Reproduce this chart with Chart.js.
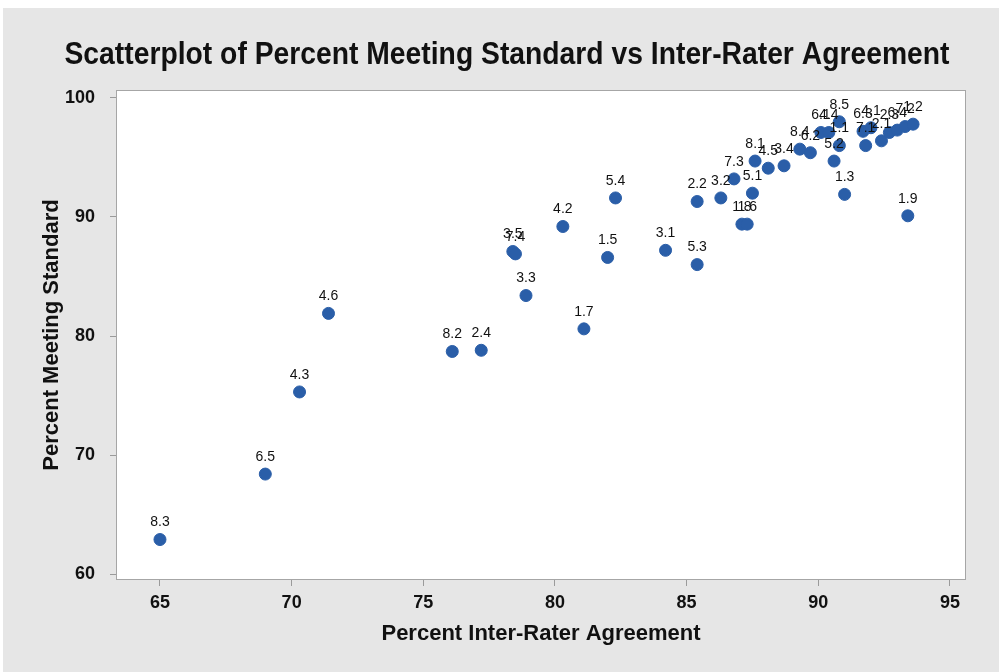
<!DOCTYPE html>
<html>
<head>
<meta charset="utf-8">
<title>Scatterplot of Percent Meeting Standard vs Inter-Rater Agreement</title>
<script src="https://cdn.jsdelivr.net/npm/chart.js@4.4.1/dist/chart.umd.min.js"></script>
<style>
  html, body { margin: 0; padding: 0; background: #ffffff; }
  #wrap { width: 1002px; height: 672px; position: relative; }
</style>
</head>
<body>
<div id="wrap"><canvas id="chart" width="1002" height="672"></canvas></div>
<script>
// standard codes shown next to each point
const pointLabels = [
  "8.3", "6.5", "4.3", "4.6", "8.2", "2.4", "3.5", "7.4", "3.3", "4.2",
  "1.7", "1.5", "5.4", "3.1", "5.3", "2.2", "3.2", "7.3", "5.1", "1.8",
  "1.6", "8.1", "4.5", "3.4", "8.4", "6.2", "6.1", "4.4", "8.5", "1.1",
  "5.2", "1.3", "1.9", "6.3", "7.1", "4.1", "2.1", "2.3", "6.4", "7.2", "1.2"
];
// Percent Inter-Rater Agreement
const agreement = [
  65.0, 69.0, 70.3, 71.4, 76.1, 77.2, 78.4, 78.5, 78.9, 80.3,
  81.1, 82.0, 82.3, 84.2, 85.4, 85.4, 86.3, 86.8, 87.5, 87.1,
  87.3, 87.6, 88.1, 88.7, 89.3, 89.7, 90.1, 90.4, 90.8, 90.8,
  90.6, 91.0, 93.4, 91.7, 91.8, 92.0, 92.4, 92.7, 93.0, 93.3, 93.6
];
// Percent Meeting Standard
const meeting = [
  62.9, 68.4, 75.3, 81.9, 78.7, 78.8, 87.1, 86.9, 83.4, 89.2,
  80.6, 86.6, 91.6, 87.2, 86.0, 91.3, 91.6, 93.2, 92.0, 89.4,
  89.4, 94.7, 94.1, 94.3, 95.7, 95.4, 97.1, 97.1, 98.0, 96.0,
  94.7, 91.9, 90.1, 97.2, 96.0, 97.5, 96.4, 97.1, 97.3, 97.6, 97.8
];
const xTicks = [65, 70, 75, 80, 85, 90, 95];
const yTicks = [60, 70, 80, 90, 100];

const chartTitle = "Scatterplot of Percent Meeting Standard vs Inter-Rater Agreement";
const sans = "'Liberation Sans', Arial, sans-serif";
const dotBlue = "#2a5ea8";

const points = agreement.map((x, i) => ({ x: x, y: meeting[i] }));

// grey panel behind everything, white plot area with a thin frame
const panelPlugin = {
  id: "panel",
  beforeDraw(chart) {
    const { ctx, chartArea } = chart;
    ctx.save();
    ctx.fillStyle = "#ffffff";
    ctx.fillRect(0, 0, chart.width, chart.height);
    ctx.fillStyle = "#e6e6e6";
    ctx.fillRect(3, 8, chart.width - 6, chart.height - 8);
    ctx.fillStyle = "#ffffff";
    ctx.fillRect(chartArea.left, chartArea.top, chartArea.width, chartArea.height);
    ctx.strokeStyle = "#a6a6a6";
    ctx.lineWidth = 1;
    ctx.strokeRect(chartArea.left + 0.5, chartArea.top + 0.5, chartArea.width - 1, chartArea.height - 1);
    ctx.restore();
  },
  // condensed bold title, squeezed to the width it takes in the original
  afterDraw(chart) {
    const { ctx } = chart;
    ctx.save();
    ctx.font = "bold 31px " + sans;
    ctx.fillStyle = "#111111";
    ctx.textAlign = "center";
    ctx.textBaseline = "middle";
    const w = ctx.measureText(chartTitle).width;
    ctx.translate(507, 55);
    ctx.scale(885 / w, 1);
    ctx.fillText(chartTitle, 0, 0);
    ctx.restore();
  },
};

// the code label printed above each dot
const codeLabels = {
  id: "codeLabels",
  afterDatasetsDraw(chart) {
    const { ctx } = chart;
    const meta = chart.getDatasetMeta(0);
    ctx.save();
    ctx.font = "14px " + sans;
    ctx.fillStyle = "#111111";
    ctx.textAlign = "center";
    ctx.textBaseline = "middle";
    meta.data.forEach((pt, i) => {
      ctx.fillText(pointLabels[i], pt.x, pt.y - 17);
    });
    ctx.restore();
  },
};

new Chart(document.getElementById("chart"), {
  type: "scatter",
  data: {
    datasets: [
      {
        data: points,
        backgroundColor: dotBlue,
        borderColor: dotBlue,
        pointRadius: 6,
        pointHoverRadius: 6,
      },
    ],
  },
  options: {
    responsive: false,
    animation: false,
    events: [],
    layout: { padding: { left: 0, right: 36, top: 90, bottom: 0 } },
    plugins: {
      legend: { display: false },
      tooltip: { enabled: false },
      title: { display: false },
    },
    scales: {
      x: {
        type: "linear",
        min: 63.33,
        max: 95.61,
        afterBuildTicks: (s) => { s.ticks = xTicks.map((v) => ({ value: v })); },
        afterFit: (s) => { s.height = 92; },
        grid: {
          display: true,
          drawOnChartArea: false,
          drawTicks: true,
          tickLength: 6,
          color: "#9a9a9a",
        },
        border: { display: false },
        ticks: {
          color: "#111111",
          padding: 6,
          maxRotation: 0,
          font: { family: sans, size: 18, weight: "bold" },
        },
        title: {
          display: true,
          text: "Percent Inter-Rater Agreement",
          color: "#111111",
          font: { family: sans, size: 22, weight: "bold", lineHeight: 1.2 },
          padding: { top: 0, bottom: 25 },
        },
      },
      y: {
        type: "linear",
        min: 59.5,
        max: 100.67,
        afterBuildTicks: (s) => { s.ticks = yTicks.map((v) => ({ value: v })); },
        afterFit: (s) => { s.width = 116; },
        grid: {
          display: true,
          drawOnChartArea: false,
          drawTicks: true,
          tickLength: 6,
          color: "#9a9a9a",
        },
        border: { display: false },
        ticks: {
          color: "#111111",
          padding: 15,
          font: { family: sans, size: 18, weight: "bold" },
        },
        title: {
          display: true,
          text: "Percent Meeting Standard",
          color: "#111111",
          font: { family: sans, size: 22, weight: "bold", lineHeight: 1.2 },
          padding: { top: 39, bottom: 0 },
        },
      },
    },
  },
  plugins: [panelPlugin, codeLabels],
});
</script>
</body>
</html>
